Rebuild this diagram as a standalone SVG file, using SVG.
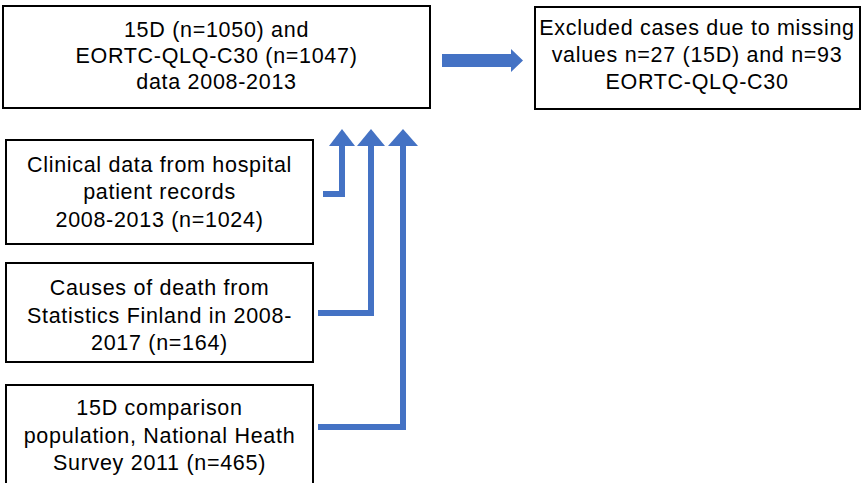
<svg xmlns="http://www.w3.org/2000/svg" width="865" height="483" viewBox="0 0 865 483">
<style>
.box{fill:#fff;stroke:#000;stroke-width:2}
.t{font-family:"Liberation Sans",Arial,sans-serif;font-size:21.5px;letter-spacing:0.7px;fill:#000;text-anchor:middle}
.c{fill:none;stroke:#4472C4;stroke-width:6}
.h{fill:#4472C4}
</style>
<rect width="865" height="483" fill="#fff"/>
<g id="main">
<rect class="box" x="3" y="6" width="427" height="102"/>
<text class="t" x="216.5" y="37">15D (n=1050) and</text>
<text class="t" x="216.5" y="63">EORTC-QLQ-C30 (n=1047)</text>
<text class="t" x="216.5" y="89">data 2008-2013</text>
</g>
<g id="excluded">
<rect class="box" x="535" y="7" width="325" height="102"/>
<text class="t" x="697" y="35">Excluded cases due to missing</text>
<text class="t" x="697" y="62">values n=27 (15D) and n=93</text>
<text class="t" x="697" y="89">EORTC-QLQ-C30</text>
</g>
<g id="clinical">
<rect class="box" x="6" y="140" width="307" height="104"/>
<text class="t" x="159.5" y="172">Clinical data from hospital</text>
<text class="t" x="159.5" y="199">patient records</text>
<text class="t" x="159.5" y="227">2008-2013 (n=1024)</text>
</g>
<g id="causes">
<rect class="box" x="6" y="263" width="307" height="99"/>
<text class="t" x="159.5" y="295">Causes of death from</text>
<text class="t" x="159.5" y="323">Statistics Finland in 2008-</text>
<text class="t" x="159.5" y="350">2017 (n=164)</text>
</g>
<g id="comparison">
<rect class="box" x="6" y="385" width="307" height="110"/>
<text class="t" x="159.5" y="415">15D comparison</text>
<text class="t" x="159.5" y="443">population, National Heath</text>
<text class="t" x="159.5" y="470">Survey 2011 (n=465)</text>
</g>
<g id="connectors">
<path class="h" d="M442,54 H511 V49 L523,60.5 L511,72 V67 H442 Z"/>
<path class="c" d="M323,194 H342 V144"/>
<path class="h" d="M329,146 L342,129 L355,146 Z"/>
<path class="c" d="M318,313 H371 V144"/>
<path class="h" d="M357,146 L371,129 L385,146 Z"/>
<path class="c" d="M318,427 H403 V144"/>
<path class="h" d="M388,146 L403,129 L418,146 Z"/>
</g>
</svg>
